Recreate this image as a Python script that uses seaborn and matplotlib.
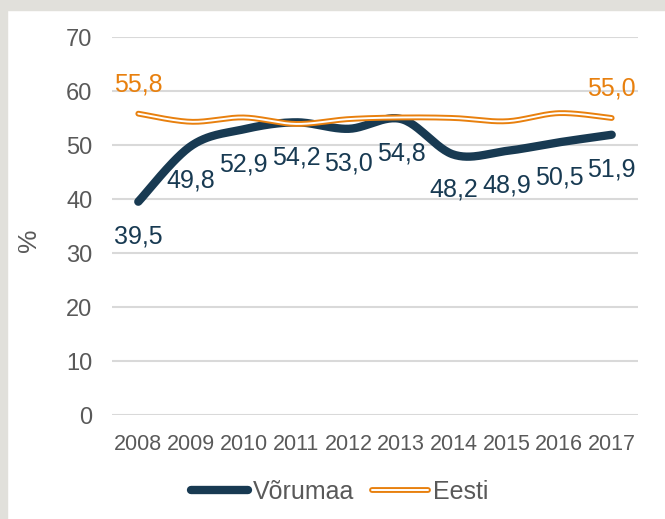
import numpy as np
import matplotlib
matplotlib.use("Agg")
import matplotlib.pyplot as plt
import matplotlib.patheffects as pe
from matplotlib.patches import Rectangle
import seaborn as sns

# data
years = ["2008", "2009", "2010", "2011", "2012", "2013", "2014", "2015", "2016", "2017"]
vorumaa = [39.5, 49.8, 52.9, 54.2, 53.0, 54.8, 48.2, 48.9, 50.5, 51.9]
eesti = [55.8, 54.3, 55.1, 53.9, 54.8, 55.1, 55.0, 54.4, 55.9, 55.0]
eesti_labels = {0: "55,8", 9: "55,0"}

NAVY = "#183A52"
ORANGE = "#E8800E"
GREY_TXT = "#595959"


def smooth(y, steps=30):
    # Excel-style smoothed line (Catmull-Rom bezier)
    y = np.asarray(y, dtype=float)
    x = np.arange(len(y), dtype=float)
    px = np.concatenate([[x[0]], x, [x[-1]]])
    py = np.concatenate([[y[0]], y, [y[-1]]])
    xs, ys = [], []
    t = np.linspace(0, 1, steps)
    for i in range(len(y) - 1):
        p0 = np.array([px[i + 1], py[i + 1]])
        p3 = np.array([px[i + 2], py[i + 2]])
        c1 = p0 + (p3 - np.array([px[i], py[i]])) / 6
        c2 = p3 - (np.array([px[i + 3], py[i + 3]]) - p0) / 6
        pts = ((1 - t) ** 3)[:, None] * p0 + (3 * (1 - t) ** 2 * t)[:, None] * c1 \
            + (3 * (1 - t) * t ** 2)[:, None] * c2 + (t ** 3)[:, None] * p3
        if i > 0:
            pts = pts[1:]
        xs.append(pts[:, 0])
        ys.append(pts[:, 1])
    return np.concatenate(xs), np.concatenate(ys)


sns.set_theme(style="white")
plt.rcParams["font.family"] = ["Liberation Sans", "DejaVu Sans"]

fig = plt.figure(figsize=(6.65, 5.19), dpi=100)
ax = fig.add_axes([112 / 665, 1 - 415 / 519, 526 / 665, 378 / 519])

# window frame around the chart
fig.add_artist(Rectangle((0, 1 - 10 / 519), 1, 10 / 519, transform=fig.transFigure,
                         color="#E1E0DB", zorder=0))
fig.add_artist(Rectangle((0, 0), 7 / 665, 1, transform=fig.transFigure,
                         color="#E1E0DB", zorder=0))

vx, vy = smooth(vorumaa)
ex, ey = smooth(eesti)
sns.lineplot(x=vx, y=vy, sort=False, estimator=None, ax=ax, color=NAVY, lw=6,
             solid_capstyle="round", label="Võrumaa", zorder=3)
sns.lineplot(x=ex, y=ey, sort=False, estimator=None, ax=ax, color="white", lw=1.4,
             solid_capstyle="round", label="Eesti", zorder=4,
             path_effects=[pe.Stroke(linewidth=4.2, foreground=ORANGE), pe.Normal()])

# data labels
for i, v in enumerate(vorumaa):
    ax.annotate(f"{v:.1f}".replace(".", ","), (i, v), xytext=(0, -25),
                textcoords="offset points", ha="center", va="center",
                fontsize=18, color=NAVY, zorder=5)
for i, txt in eesti_labels.items():
    ax.annotate(txt, (i, eesti[i]), xytext=(0, 21), textcoords="offset points",
                ha="center", va="center", fontsize=18, color=ORANGE, zorder=5)

ax.set_xlim(-0.5, len(years) - 0.5)
ax.set_ylim(0, 70)
ax.set_xticks(range(len(years)))
ax.set_xticklabels(years)
ax.set_yticks(range(0, 71, 10))
ax.tick_params(axis="x", length=0, pad=14, labelsize=15.5, labelcolor=GREY_TXT)
ax.tick_params(axis="y", length=0, pad=14, labelsize=17, labelcolor=GREY_TXT)
ax.grid(axis="y", color="#D9D9D9", lw=1.5)
ax.set_axisbelow(True)
for s in ax.spines.values():
    s.set_visible(False)

ax.set_ylabel("%", fontsize=19, color=GREY_TXT)
ax.yaxis.set_label_coords(-0.135, 0.463)

ax.legend(loc="center", bbox_to_anchor=(0.511, 0.052), bbox_transform=fig.transFigure,
          ncol=2, frameon=False, fontsize=18, handlelength=2.25, handletextpad=0.2,
          columnspacing=0.7, labelcolor=GREY_TXT)

fig.savefig("out.png", dpi=100)
